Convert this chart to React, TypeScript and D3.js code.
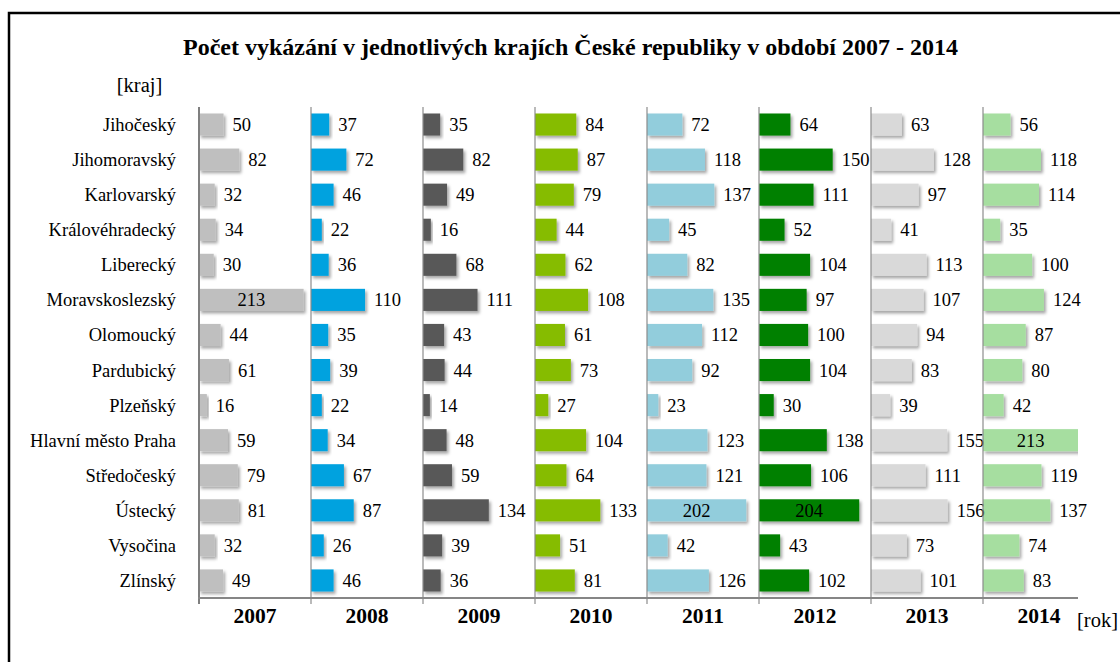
import React from "react";
import * as d3 from "d3";

const regions = [
  "Jihočeský", "Jihomoravský", "Karlovarský", "Královéhradecký", "Liberecký",
  "Moravskoslezský", "Olomoucký", "Pardubický", "Plzeňský", "Hlavní město Praha",
  "Středočeský", "Ústecký", "Vysočina", "Zlínský",
];
const years = ["2007", "2008", "2009", "2010", "2011", "2012", "2013", "2014"];
const v2007 = [50, 82, 32, 34, 30, 213, 44, 61, 16, 59, 79, 81, 32, 49];
const v2008 = [37, 72, 46, 22, 36, 110, 35, 39, 22, 34, 67, 87, 26, 46];
const v2009 = [35, 82, 49, 16, 68, 111, 43, 44, 14, 48, 59, 134, 39, 36];
const v2010 = [84, 87, 79, 44, 62, 108, 61, 73, 27, 104, 64, 133, 51, 81];
const v2011 = [72, 118, 137, 45, 82, 135, 112, 92, 23, 123, 121, 202, 42, 126];
const v2012 = [64, 150, 111, 52, 104, 97, 100, 104, 30, 138, 106, 204, 43, 102];
const v2013 = [63, 128, 97, 41, 113, 107, 94, 83, 39, 155, 111, 156, 73, 101];
const v2014 = [56, 118, 114, 35, 100, 124, 87, 80, 42, 213, 119, 137, 74, 83];
const seriesValues = [v2007, v2008, v2009, v2010, v2011, v2012, v2013, v2014];
const colors = ["#BFBFBF", "#00A2DF", "#595959", "#86BC00", "#92CDDC", "#008000", "#D9D9D9", "#A6DEA0"];

const title = "Počet vykázání v jednotlivých krajích České republiky v období 2007 - 2014";
const FONT = "'Liberation Serif', 'Times New Roman', Times, serif";

export default function App() {
  const W = 1120, H = 662;
  const plotLeft = 199, plotTop = 107, plotBottom = 598, plotRight = 1078;
  const panelW = 112;

  const xPanel = d3.scaleBand<string>().domain(years).range([plotLeft, plotLeft + panelW * years.length]).padding(0);
  const y = d3.scaleBand<string>().domain(regions).range([plotTop, plotBottom]).paddingInner(0.37).paddingOuter(0.185);
  const x = d3.scaleLinear().domain([0, 228]).range([0, panelW]);

  return (
    <svg width={W} height={H} style={{ position: "absolute", left: 0, top: 0, background: "#fff" }} fontFamily={FONT}>
      <defs>
        <filter id="shadow" x="-10%" y="-30%" width="130%" height="180%">
          <feDropShadow dx="2" dy="2.5" stdDeviation="1.6" floodColor="#000" floodOpacity="0.35" />
        </filter>
        <clipPath id="plotClip">
          <rect x={plotLeft - 2} y={plotTop - 5} width={plotRight - plotLeft + 2} height={plotBottom - plotTop + 10} />
        </clipPath>
      </defs>
      <rect x={0} y={0} width={W} height={H} fill="#fff" />
      <rect x={9} y={13} width={1300} height={900} fill="none" stroke="#000" strokeWidth={2.5} />

      <text x={570.5} y={55} textAnchor="middle" fontSize={24} fontWeight="bold" fill="#000">{title}</text>
      <text x={139.5} y={92} textAnchor="middle" fontSize={20.5} fill="#000">[kraj]</text>
      <text x={1077} y={627} textAnchor="start" fontSize={20.5} fill="#000">[rok]</text>

      {regions.map((r) => (
        <text key={r} x={176} y={(y(r) as number) + y.bandwidth() / 2} dy="0.35em" textAnchor="end" fontSize={18.5} fill="#000">{r}</text>
      ))}

      <g clipPath="url(#plotClip)">
        {years.map((yr, si) => {
          const x0 = xPanel(yr) as number;
          return (
            <g key={yr}>
              {regions.map((r, i) => {
                const v = seriesValues[si][i];
                return (
                  <rect key={r} x={x0} y={y(r) as number} width={x(v)} height={y.bandwidth()} fill={colors[si]} filter="url(#shadow)" />
                );
              })}
            </g>
          );
        })}
      </g>

      {years.map((yr, si) => {
        const x0 = xPanel(yr) as number;
        return (
          <g key={"lbl" + yr}>
            {regions.map((r, i) => {
              const v = seriesValues[si][i];
              const w = x(v);
              const cy = (y(r) as number) + y.bandwidth() / 2;
              const inside = v >= 200;
              const endX = Math.min(x0 + w, plotRight);
              const lx = inside ? (x0 + endX) / 2 : x0 + w + 9;
              return (
                <text key={r} x={lx} y={cy} dy="0.35em" textAnchor={inside ? "middle" : "start"} fontSize={18.5} fill="#000">{v}</text>
              );
            })}
          </g>
        );
      })}

      {years.map((yr, si) => {
        const x0 = xPanel(yr) as number;
        return (
          <g key={"ax" + yr}>
            <line x1={x0} x2={x0} y1={plotTop} y2={plotBottom + 6} stroke={si === 0 ? "#7F7F7F" : "#8C8C8C"} strokeWidth={si === 0 ? 2 : 1.2} />
            <text x={x0 + panelW / 2} y={623} textAnchor="middle" fontSize={21.5} fontWeight="bold" fill="#000">{yr}</text>
          </g>
        );
      })}
      <line x1={plotLeft - 1} x2={plotRight} y1={plotBottom} y2={plotBottom} stroke="#868686" strokeWidth={2} />
    </svg>
  );
}
